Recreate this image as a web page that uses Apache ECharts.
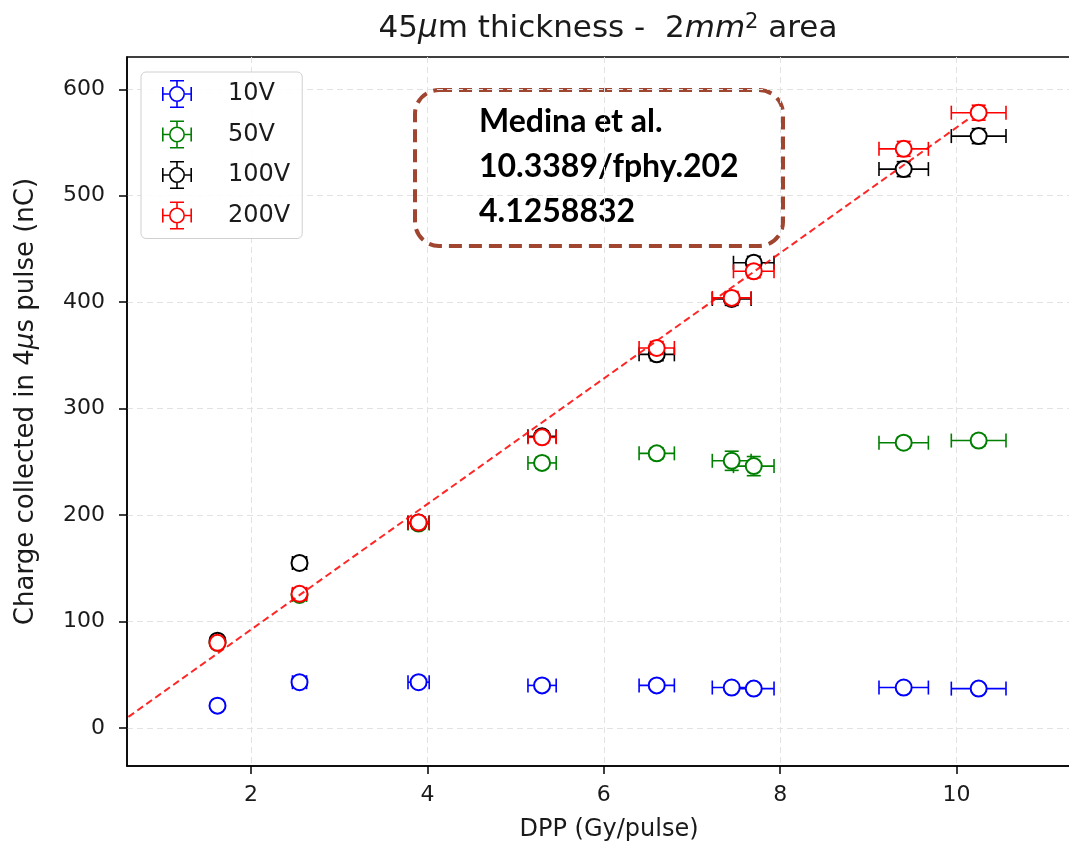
<!DOCTYPE html>
<html>
<head>
<meta charset="utf-8">
<script src="https://cdn.jsdelivr.net/npm/echarts@6/dist/echarts.min.js"></script>
<style>html,body{margin:0;padding:0;background:#fff;}#chart{width:1069px;height:850px;}</style>
</head>
<body>
<div id="chart"></div>
<script>
// ---- data ----
const seriesNames = ['10V', '50V', '100V', '200V'];
const seriesColors = ['#0000ff', '#008000', '#000000', '#ff0000'];
const dpp = [1.62, 2.55, 3.9, 5.3, 6.6, 7.45, 7.7, 9.4, 10.25];
const dppErr = [0.05, 0.08, 0.12, 0.16, 0.2, 0.22, 0.23, 0.28, 0.31];
const charge10V = [21, 43, 43, 40, 40, 38, 37, 38, 37];
const charge50V = [80, 125, 192, 249, 258, 251, 246, 268, 270];
const charge100V = [82, 155, 193, 274, 351, 403, 437, 525, 556];
const charge200V = [80, 126, 193, 273, 357, 404, 429, 544, 578];
const err10V = [1, 2, 2, 2, 2, 2, 2, 2, 2];
const err50V = [3, 4, 5, 5, 5, 9, 9, 5, 5];
const err100V = [3, 4, 5, 5, 6, 6, 6, 7, 7];
const err200V = [3, 4, 5, 5, 6, 6, 6, 7, 7];
const fitX = [0, 10.15];
const fitY = [-25.5, 573];
const xTicks = [2, 4, 6, 8, 10];
const yTicks = [0, 100, 200, 300, 400, 500, 600];
const xRange = [0.594, 11.297];
const yRange = [-35.7, 630.3];

const chargeSets = [charge10V, charge50V, charge100V, charge200V];
const errSets = [err10V, err50V, err100V, err200V];

const errIcon = 'path://M23,14 A8,8,0,1,0,7,14 A8,8,0,1,0,23,14 Z M21.4,14 A6.4,6.4,0,1,1,8.6,14 A6.4,6.4,0,1,1,21.4,14 Z ' +
  'M0,13.2 L7,13.2 L7,14.8 L0,14.8 Z M23,13.2 L30,13.2 L30,14.8 L23,14.8 Z ' +
  'M0,7 L1.6,7 L1.6,21 L0,21 Z M28.4,7 L30,7 L30,21 L28.4,21 Z ' +
  'M14.2,0 L15.8,0 L15.8,6 L14.2,6 Z M14.2,22 L15.8,22 L15.8,28 L14.2,28 Z ' +
  'M8,0 L22,0 L22,1.6 L8,1.6 Z M8,26.4 L22,26.4 L22,28 L8,28 Z';

function renderErr(params, api) {
  const x = api.value(0), y = api.value(1), xe = api.value(2), ye = api.value(3);
  const c = api.coord([x, y]);
  const l = api.coord([x - xe, y]), r = api.coord([x + xe, y]);
  const t = api.coord([x, y + ye]), b = api.coord([x, y - ye]);
  const color = api.visual('color');
  const cap = 7;
  const ls = { stroke: color, lineWidth: 1.6 };
  return {
    type: 'group',
    children: [
      { type: 'line', z2: 1, shape: { x1: l[0], y1: l[1], x2: r[0], y2: r[1] }, style: ls },
      { type: 'line', z2: 1, shape: { x1: l[0], y1: l[1] - cap, x2: l[0], y2: l[1] + cap }, style: ls },
      { type: 'line', z2: 1, shape: { x1: r[0], y1: r[1] - cap, x2: r[0], y2: r[1] + cap }, style: ls },
      { type: 'line', z2: 1, shape: { x1: t[0], y1: t[1], x2: b[0], y2: b[1] }, style: ls },
      { type: 'line', z2: 1, shape: { x1: t[0] - cap, y1: t[1], x2: t[0] + cap, y2: t[1] }, style: ls },
      { type: 'line', z2: 1, shape: { x1: b[0] - cap, y1: b[1], x2: b[0] + cap, y2: b[1] }, style: ls },
      { type: 'circle', z2: 10, shape: { cx: c[0], cy: c[1], r: 8 }, style: { fill: '#ffffff', stroke: color, lineWidth: 2 } }
    ]
  };
}

const series = seriesNames.map((name, i) => ({
  name: name,
  type: 'custom',
  z: 2 + i,
  itemStyle: { color: seriesColors[i] },
  renderItem: renderErr,
  encode: { x: 0, y: 1 },
  data: dpp.map((x, k) => [x, chargeSets[i][k], dppErr[k], errSets[i][k]])
}));
series.push({
  name: 'fit',
  type: 'line',
  z: 10,
  showSymbol: false,
  silent: true,
  clip: true,
  lineStyle: { color: 'rgba(255,0,0,0.85)', width: 2, type: [7, 4] },
  data: fitX.map((x, k) => [x, fitY[k]])
});

const gridStyle = { color: '#e2e2e2', width: 1, type: [6, 4] };
const font = 'DejaVu Sans';

const option = {
  animation: false,
  backgroundColor: '#fff',
  title: {
    text: '45{i|μ}m thickness -  2{i|mm}{sup|2} area',
    left: 603, top: 7, textAlign: 'center',
    textStyle: {
      fontFamily: font, fontSize: 31, fontWeight: 'normal', color: '#1a1a1a',
      rich: {
        i: { fontFamily: font, fontSize: 31, fontStyle: 'italic', color: '#1a1a1a' },
        sup: { fontFamily: font, fontSize: 21, color: '#1a1a1a', verticalAlign: 'top', padding: [0, 0, 13, 0] }
      }
    }
  },
  grid: { left: 127, top: 57, right: -2, bottom: 84, show: true, borderColor: '#000', borderWidth: 1.5, backgroundColor: 'transparent', outerBoundsMode: 'none', containLabel: false },
  legend: {
    orient: 'vertical', left: 141, top: 72,
    padding: [8, 12, 9, 21],
    itemWidth: 30, itemHeight: 28, itemGap: 12.5,
    backgroundColor: 'rgba(255,255,255,0.9)',
    borderColor: '#d0d0d0', borderWidth: 1, borderRadius: 5,
    textStyle: { fontFamily: font, fontSize: 24, color: '#1a1a1a', padding: [0, 0, 0, 31] },
    data: seriesNames.map(n => ({ name: n, icon: errIcon }))
  },
  xAxis: {
    type: 'value', min: xRange[0], max: xRange[1],
    name: 'DPP (Gy/pulse)', nameLocation: 'middle', nameGap: 52,
    nameTextStyle: { fontFamily: font, fontSize: 24, color: '#1a1a1a', padding: [0, 0, 0, 20] },
    axisLine: { show: true, onZero: false, lineStyle: { color: '#000', width: 1.5 } },
    axisTick: { show: true, length: 8, customValues: xTicks, lineStyle: { color: '#000', width: 1.5 } },
    axisLabel: { customValues: xTicks, fontFamily: font, fontSize: 22, color: '#1a1a1a', margin: 18 },
    splitLine: { show: true, lineStyle: gridStyle }
  },
  yAxis: {
    type: 'value', min: yRange[0], max: yRange[1],
    name: 'Charge collected in 4{i|μ}s pulse (nC)', nameLocation: 'middle', nameGap: 88,
    nameTextStyle: { fontFamily: font, fontSize: 26, color: '#1a1a1a', padding: [0, 0, 0, 20], rich: { i: { fontFamily: font, fontSize: 26, fontStyle: 'italic', color: '#1a1a1a' } } },
    axisLine: { show: true, onZero: false, lineStyle: { color: '#000', width: 1.5 } },
    axisTick: { show: true, length: 8, customValues: yTicks, lineStyle: { color: '#000', width: 1.5 } },
    axisLabel: { customValues: yTicks, fontFamily: font, fontSize: 22, color: '#1a1a1a', margin: 22 },
    splitLine: { show: true, lineStyle: gridStyle }
  },
  graphic: [
    {
      type: 'group', left: 413, top: 88, z: 50,
      children: [
        { type: 'rect', shape: { x: 0, y: 0, width: 368, height: 156, r: 24 },
          style: { fill: '#ffffff', stroke: '#a0452f', lineWidth: 4, lineDash: [13, 7] } },
        { type: 'text', x: 64, y: 9,
          style: { text: 'Medina et al.\n10.3389/fphy.202\n4.1258832', font: 'bold 32px Lato', lineHeight: 45, fill: '#000' } }
      ]
    }
  ],
  series: series
};

const chart = echarts.init(document.getElementById('chart'), null, { renderer: 'canvas' });
chart.setOption(option);
</script>
</body>
</html>
